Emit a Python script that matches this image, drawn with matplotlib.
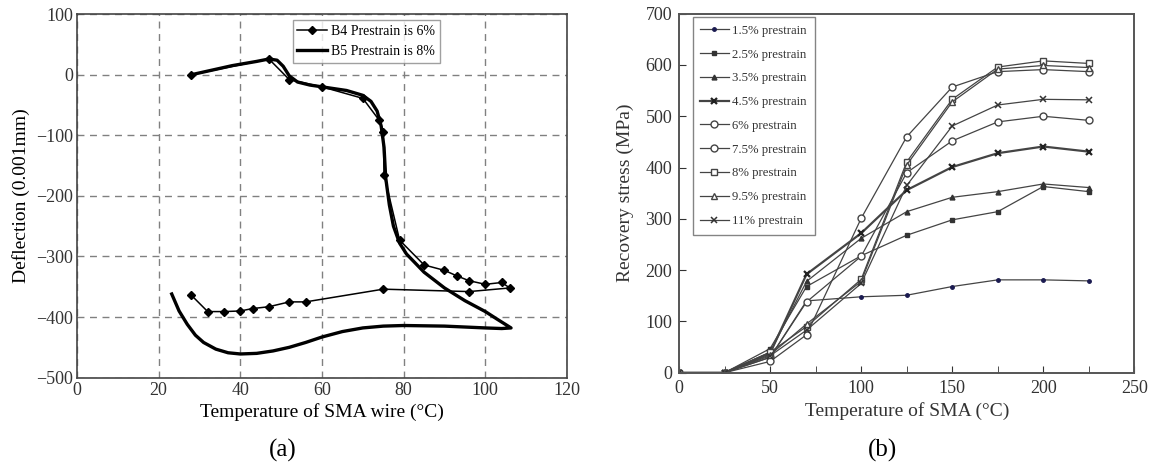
import numpy as np
import matplotlib.pyplot as plt

plt.rcParams['font.family'] = ['Liberation Serif', 'DejaVu Serif']

# ---- (a) deflection vs. wire temperature ----
b4_temp = [28, 47, 52, 60, 70, 74, 75, 75.2, 79, 85, 90, 93, 96, 100, 104, 106,
           96, 75, 56, 52, 47, 43, 40, 36, 32, 28]
b4_defl = [0, 26, -8, -20, -39, -75, -94, -165, -273, -314, -323, -332, -340, -346, -343, -352,
           -358, -354, -375, -375, -383, -386, -390, -391, -391, -364]

b5_temp = [28, 38, 44, 47, 49, 50.5, 52, 54, 57, 60, 66, 70, 72, 73.5, 74.5, 75.2, 75.6, 76.5,
           77.5, 79, 80.7, 83, 85, 90, 95, 100, 103, 106.3,
           104, 100, 90, 80, 75, 70, 65, 60, 56, 52, 48, 44, 40, 37, 34, 31, 29, 27, 25, 23.2]
b5_defl = [0, 15, 22, 26, 24, 14, -2, -12, -17, -20, -26, -34, -44, -60, -85, -120, -170, -215,
           -250, -278, -296, -312, -326, -352, -373, -391, -404, -418,
           -419, -418, -415, -414, -415, -418, -424, -433, -442, -450, -456, -460, -461, -459,
           -453, -442, -430, -412, -390, -362]

# ---- (b) recovery stress vs. SMA temperature ----
temp_b = [0, 25, 50, 70, 100, 125, 150, 175, 200, 225]
labels_b = ['1.5% prestrain', '2.5% prestrain', '3.5% prestrain', '4.5% prestrain',
            '6% prestrain', '7.5% prestrain', '8% prestrain', '9.5% prestrain', '11% prestrain']
stress_15 = [0, 0, 30, 140, 148, 151, 168, 181, 181, 179]
stress_25 = [0, 0, 47, 168, 228, 268, 298, 314, 363, 353]
stress_35 = [0, 0, 40, 178, 262, 314, 342, 353, 368, 361]
stress_45 = [0, 0, 38, 192, 272, 356, 401, 428, 441, 431]
stress_60 = [0, 0, 30, 138, 227, 390, 452, 489, 500, 492]
stress_75 = [0, 0, 22, 74, 301, 460, 557, 587, 591, 587]
stress_80 = [0, 0, 40, 90, 182, 411, 533, 596, 608, 603]
stress_95 = [0, 0, 35, 95, 178, 405, 528, 592, 599, 595]
stress_110 = [0, 0, 33, 83, 174, 365, 481, 522, 533, 532]
stress_b = [stress_15, stress_25, stress_35, stress_45, stress_60,
            stress_75, stress_80, stress_95, stress_110]

fig = plt.figure(figsize=(11.51, 4.72), dpi=100)

# (a)
ax1 = fig.add_axes([0.0669, 0.200, 0.4257, 0.770])
ax1.plot(b4_temp, b4_defl, color='black', lw=1.1, marker='D', ms=4,
         label='B4 Prestrain is 6%')
ax1.plot(b5_temp, b5_defl, color='black', lw=2.4, label='B5 Prestrain is 8%')
ax1.set_xlim(0, 120)
ax1.set_ylim(-500, 100)
ax1.set_xticks(np.arange(0, 121, 20))
ax1.set_yticks(np.arange(-500, 101, 100))
ax1.set_yticklabels(['\u2212500', '\u2212400', '\u2212300', '\u2212200', '\u2212100', '0', '100'])
ax1.grid(True, color='#808080', ls=(0, (5, 4)), lw=1.0)
ax1.tick_params(labelsize=13, length=0, pad=3, colors='#333333')
for s in ax1.spines.values():
    s.set_color('#444444')
    s.set_linewidth(1.2)
ax1.set_xlabel('Temperature of SMA wire (°C)', fontsize=14, labelpad=3)
ax1.set_ylabel('Deflection (0.001mm)', fontsize=14, labelpad=4)
leg1 = ax1.legend(loc='upper left', bbox_to_anchor=(0.44, 0.983), borderaxespad=0,
                  fontsize=10, frameon=True, fancybox=False, handlelength=2.15,
                  handletextpad=0.3, borderpad=0.35, labelspacing=0.5)
leg1.get_frame().set_edgecolor('#888888')
leg1.get_frame().set_linewidth(1.0)
fig.text(0.246, 0.045, '(a)', fontsize=18, ha='center', va='center')

# (b)
ax2 = fig.add_axes([0.590, 0.2104, 0.3955, 0.7606])
styles = [
    dict(marker='.', ms=5, mfc='#1a1a50', mec='#1a1a50', lw=0.9),
    dict(marker='s', ms=3.5, mfc='#333333', mec='#333333', lw=0.9),
    dict(marker='^', ms=3.5, mfc='#333333', mec='#333333', lw=0.9),
    dict(marker='x', ms=5, mew=1.6, mec='#222222', lw=1.6),
    dict(marker='o', ms=5, mfc='white', mec='#444444', lw=0.9),
    dict(marker='o', ms=5, mfc='white', mec='#444444', lw=0.9),
    dict(marker='s', ms=5, mfc='white', mec='#444444', lw=0.9),
    dict(marker='^', ms=5, mfc='white', mec='#444444', lw=0.9),
    dict(marker='x', ms=5, mew=1.1, mec='#333333', lw=0.9),
]
for vals, lab, st in zip(stress_b, labels_b, styles):
    ax2.plot(temp_b, vals, color='#444444', label=lab, **st)
ax2.set_xlim(0, 250)
ax2.set_ylim(0, 700)
ax2.set_xticks(np.arange(0, 251, 50))
ax2.set_xticks(np.arange(25, 250, 50), minor=True)
ax2.set_yticks(np.arange(0, 701, 100))
ax2.tick_params(which='both', direction='in', labelsize=13, colors='#333333', length=5, pad=5)
for s in ax2.spines.values():
    s.set_color('#555555')
    s.set_linewidth(1.4)
ax2.set_xlabel('Temperature of SMA (°C)', fontsize=14, labelpad=4, color='#333333')
ax2.set_ylabel('Recovery stress (MPa)', fontsize=14, labelpad=8, color='#333333')
leg2 = ax2.legend(loc='upper left', bbox_to_anchor=(0.03, 0.99), borderaxespad=0,
                  fontsize=9.2, frameon=True, fancybox=False, handlelength=2.2,
                  handletextpad=0.3, borderpad=0.6, labelspacing=0.92)
leg2.get_frame().set_edgecolor('#666666')
leg2.get_frame().set_linewidth(1.0)
for t in leg2.get_texts():
    t.set_color('#333333')
fig.text(0.767, 0.045, '(b)', fontsize=18, ha='center', va='center')

fig.savefig('out.png', dpi=100)
